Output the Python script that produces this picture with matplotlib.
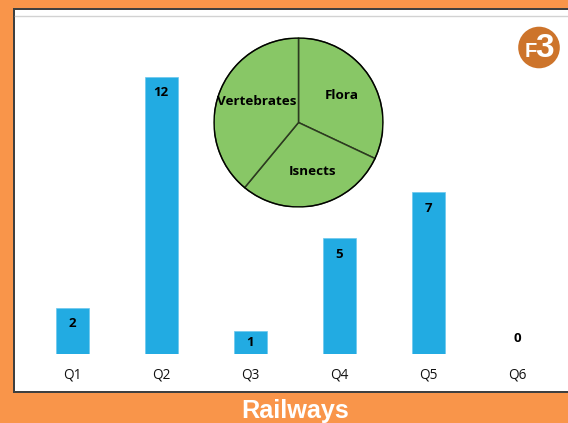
"""Quarterly bars with a species pie inset, on an orange exam-slide frame."""
import matplotlib
matplotlib.use("Agg")
import matplotlib.pyplot as plt
from matplotlib.patches import Rectangle, Circle

W, H = 568, 423

quarters = ["Q1", "Q2", "Q3", "Q4", "Q5", "Q6"]
counts = [2, 12, 1, 5, 7, 0]
pie_labels = ["Flora", "Isnects", "Vertebrates"]
pie_shares = [32, 29, 39]
footer = "Railways"
badge = ("F", "3")

ORANGE = "#F9954A"
FRAME = "#3F4040"
BLUE = "#22ABE2"
GREEN = "#88C766"
BADGE = "#CD742B"

plt.rcParams["font.family"] = ["Open Sans", "DejaVu Sans"]


def px_axes(fig, left, top, right, bottom, **kw):
    """Axes from pixel edges measured from the top-left of the picture."""
    return fig.add_axes([left / W, 1 - bottom / H, (right - left) / W, (bottom - top) / H], **kw)


fig = plt.figure(figsize=(W / 100, H / 100), dpi=100, facecolor=ORANGE)

# ── Frame ──
bg = px_axes(fig, 0, 0, W, H)
bg.set_xlim(0, W); bg.set_ylim(H, 0); bg.axis("off")
bg.add_patch(Rectangle((12.5, 8), W, 385, fc=FRAME, ec="none"))
bg.add_patch(Rectangle((15, 10.5), W, 380.5, fc="white", ec="none"))
bg.plot([15, W], [16, 16], color="#D2D2D2", lw=1)
bg.text(295.5, 417.6, footer, color="white", fontsize=18.2, fontweight="bold",
        family=["Liberation Sans"], ha="center", va="baseline")

# ── Bars ──
ax = px_axes(fig, 28, 53.7, 562, 354)
ax.patch.set_alpha(0)
ax.bar(range(len(counts)), counts, width=0.38, color=BLUE, edgecolor="#6CC8EE", lw=0.5)
ax.set_xlim(-0.5, 5.5); ax.set_ylim(0, 13)
ax.set_xticks(range(len(quarters))); ax.set_xticklabels(quarters, fontsize=9.8, color="#111111")
ax.tick_params(axis="x", length=0, pad=9.5)
ax.set_yticks([])
for s in ax.spines.values():
    s.set_visible(False)
for i, v in enumerate(counts):
    if v == 0:
        off = 11
    elif v == 1:
        off = -8.5
    else:
        off = -11.5
    ax.annotate(str(v), (i, v), xytext=(-0.4, off), textcoords="offset points",
                ha="center", va="center", fontsize=9.5, fontweight="bold", color="black")

# ── Pie inset ──
pie_ax = px_axes(fig, 214, 38, 383, 207)
pie_ax.pie(pie_shares, colors=[GREEN] * 3, startangle=90, counterclock=False, radius=1,
           wedgeprops=dict(edgecolor="#2C3A20", linewidth=1.1))
pie_ax.add_patch(Circle((0, 0), 1, fc="none", ec="black", lw=0.9))
pie_ax.set_xlim(-1, 1); pie_ax.set_ylim(-1, 1)
label_pos = [(0.51, 0.32), (0.17, -0.58), (-0.49, 0.25)]
for name, (x, y) in zip(pie_labels, label_pos):
    pie_ax.text(x, y, name, ha="center", va="center", fontsize=9.7, fontweight="bold", color="black")

# ── F3 badge ──
bg.add_patch(Circle((539, 47.5), 20.8, fc=BADGE, ec="none", zorder=5))
bg.text(530.5, 57, badge[0], color="white", fontsize=14.5, fontweight="bold",
        family=["Liberation Sans"], ha="center", va="baseline", zorder=6)
bg.text(544.5, 57, badge[1], color="white", fontsize=24, fontweight="bold",
        family=["Liberation Sans"], ha="center", va="baseline", zorder=6)

fig.savefig("out.png", dpi=100, facecolor=ORANGE)
plt.close(fig)
